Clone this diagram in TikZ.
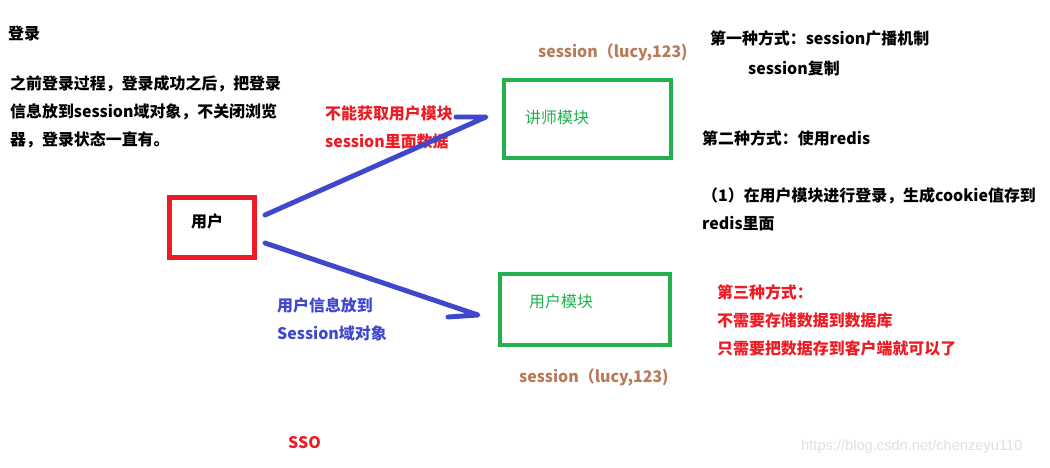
\documentclass[tikz,border=0pt]{standalone}
\usepackage{fontspec}
\setmainfont{Noto Sans CJK SC}
\newfontfamily\wmfont{Liberation Sans}
\usepackage{xcolor}
\usepackage{tikz}
\usetikzlibrary{positioning}
\definecolor{paintred}{HTML}{ED1C24}
\definecolor{paintgreen}{HTML}{22B14C}
\definecolor{paintblue}{HTML}{3F48CC}
\definecolor{paintbrown}{HTML}{B97A57}
\tikzset{
  notetext/.style={
    anchor=base west,
    inner sep=0pt,
    align=left,
    font=\fontsize{13.6}{23.5}\selectfont\bfseries
  },
  redtext/.style={notetext, text=paintred},
  bluetext/.style={notetext, text=paintblue},
  browntext/.style={notetext, text=paintbrown},
  modtext/.style={notetext, text=paintgreen, font=\fontsize{13.6}{23.5}\selectfont},
  modulebox/.style={
    draw=paintgreen,
    line width=3.9pt,
    inner sep=0pt
  },
  userbox/.style={
    modulebox,
    draw=paintred,
    line width=4.2pt
  },
  penline/.style={
    draw=paintblue,
    line width=4.2pt,
    line cap=round,
    line join=round
  }
}

\begin{document}
\begin{tikzpicture}[x=0.03cm, y=-0.03cm]
    \useasboundingbox[fill=white] (0,0) rectangle (1050,467);

    % left notes (multi-line nodes sit on their last baseline)
    \node[notetext] (denglu) at (8,39) {登录};
    \node[notetext] (guocheng) at (10,145) {
        之前登录过程，登录成功之后，把登录\\
        信息放到session域对象，不关闭浏览\\
        器，登录状态一直有。
    };

    % boxes
    \node[userbox, minimum width=2.55cm, minimum height=1.8cm] (yonghu) at (212,227.5) {};
    \node[notetext] (yonghutext) at (191,227) {用户};
    \node[modulebox, minimum width=5.01cm, minimum height=2.34cm] (jiangshi) at (587.5,119) {};
    \node[modtext] (jiangshitext) at (525,123) {讲师模块};
    \node[modulebox, minimum width=5.1cm, minimum height=2.13cm] (yonghumokuai) at (585,309.5) {};
    \node[modtext] (yonghumokuaitext) at (529,307) {用户模块};

    \node[browntext] (sessiontop) at (538,57) {session（lucy,123)};
    \node[browntext] (sessionbottom) at (519,382) {session（lucy,123)};

    % labels on the connectors
    \node[redtext] (buneng) at (325,147) {
        不能获取用户模块\\
        session里面数据
    };
    \node[bluetext] (fangdao) at (277,339) {
        用户信息放到\\
        Session域对象
    };

    % connectors (hand drawn half arrows)
    \coordinate (topstart) at (265,215);
    \coordinate (toptip) at (486,117);
    \coordinate (topbarb) at (456,117);
    \coordinate (bottomstart) at (265,243);
    \coordinate (bottomtip) at (478,315);
    \coordinate (bottombarb) at (448,317);
    \draw[penline] (topstart) -- (toptip) -- (topbarb);
    \draw[penline] (bottomstart) -- (bottomtip) -- (bottombarb);

    % right notes
    \node[notetext] (fangshione) at (710,44) {第一种方式：session广播机制};
    \node[notetext] (fuzhi) at (748,74) {session复制};
    \node[notetext] (fangshitwo) at (702,144) {第二种方式：使用redis};
    \node[notetext] (redisstep) at (702,229) {
        （1）在用户模块进行登录，生成cookie值存到\\
        redis里面
    };
    \node[redtext] (fangshithree) at (717,354) {
        第三种方式：\\
        不需要存储数据到数据库\\
        只需要把数据存到客户端就可以了
    };

    \node[redtext] (sso) at (288,448) {SSO};
    \node[anchor=base west, inner sep=0pt, text=black!12, font=\wmfont\fontsize{12.5}{14}\selectfont] (watermark) at (801,450) {https://blog.csdn.net/chenzeyu110};
\end{tikzpicture}
\end{document}
